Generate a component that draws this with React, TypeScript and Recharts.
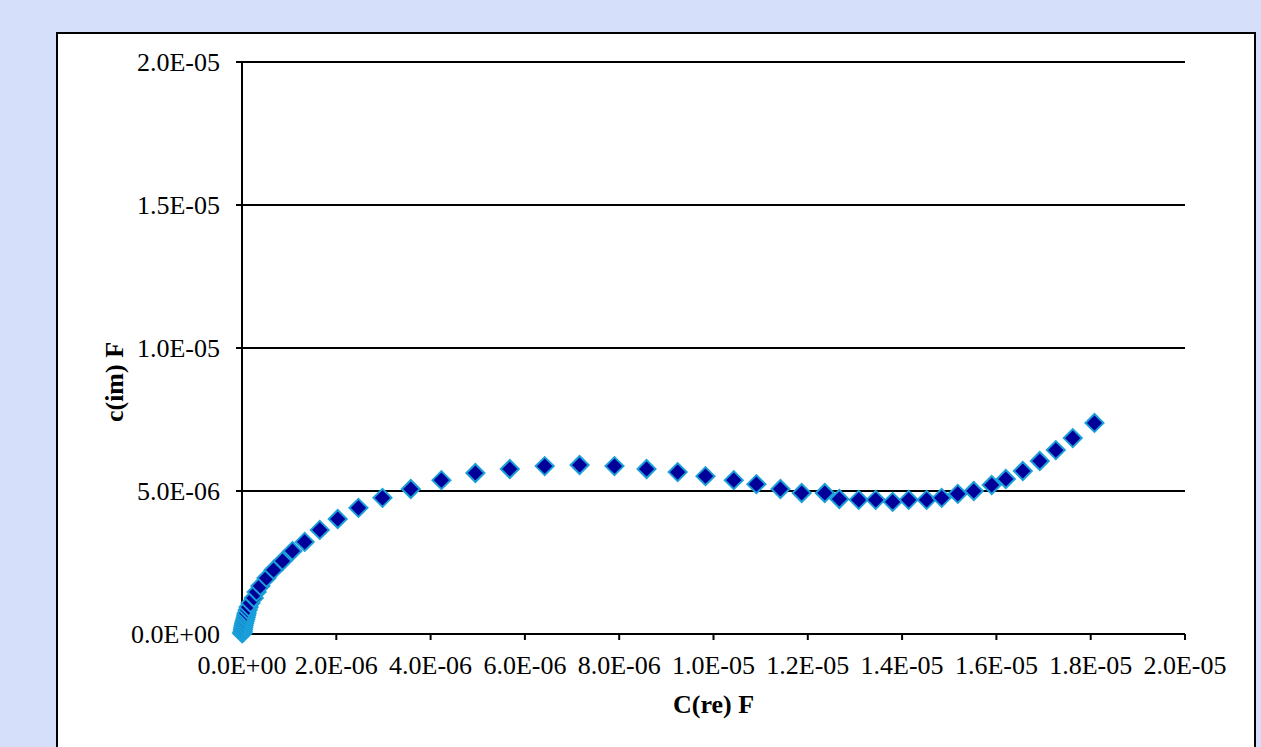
import { CartesianGrid, Scatter, ScatterChart, XAxis, YAxis } from 'recharts'

// real part of capacitance, µF
const C_RE = [
  0.005, 0.01, 0.015, 0.02, 0.027, 0.035, 0.045, 0.055, 0.07, 0.08,
  0.09, 0.1, 0.12, 0.14, 0.18, 0.25, 0.31, 0.39, 0.52, 0.67,
  0.86, 1.07, 1.33, 1.65, 2.03, 2.47, 2.98, 3.58, 4.23, 4.95,
  5.68, 6.42, 7.16, 7.9, 8.58, 9.24, 9.83, 10.43, 10.91, 11.42,
  11.87, 12.36, 12.67, 13.08, 13.44, 13.8, 14.14, 14.52, 14.84, 15.18,
  15.52, 15.9, 16.2, 16.56, 16.92, 17.26, 17.62, 18.08,
]

// imaginary part of capacitance, µF
const C_IM = [
  0.02, 0.05, 0.1, 0.17, 0.24, 0.31, 0.38, 0.45, 0.52, 0.59,
  0.66, 0.73, 0.84, 0.94, 1.08, 1.26, 1.47, 1.68, 1.96, 2.24,
  2.55, 2.9, 3.22, 3.64, 4.02, 4.41, 4.76, 5.07, 5.38, 5.63,
  5.77, 5.87, 5.91, 5.87, 5.77, 5.66, 5.52, 5.38, 5.24, 5.07,
  4.93, 4.93, 4.72, 4.69, 4.69, 4.62, 4.69, 4.69, 4.76, 4.9,
  5.0, 5.21, 5.42, 5.7, 6.05, 6.43, 6.85, 7.38,
]

const X_TICKS = [0, 2e-6, 4e-6, 6e-6, 8e-6, 1e-5, 1.2e-5, 1.4e-5, 1.6e-5, 1.8e-5, 2e-5]
const Y_TICKS = [0, 5e-6, 1e-5, 1.5e-5, 2e-5]

const FONT = '"Liberation Serif", "Times New Roman", serif'

const points = C_RE.map((re, i) => ({ re: re * 1e-6, im: C_IM[i] * 1e-6 }))

// Excel-style scientific label, e.g. 2.0E-05
function sci(v: number) {
  if (v === 0) return '0.0E+00'
  const [m, e] = v.toExponential(1).split('e')
  const exp = Number(e)
  return `${m}E${exp < 0 ? '-' : '+'}${String(Math.abs(exp)).padStart(2, '0')}`
}

function Diamond({ cx, cy }: { cx?: number; cy?: number }) {
  if (cx == null || cy == null) return null
  const r = 9
  return (
    <polygon
      points={`${cx},${cy - r} ${cx + r},${cy} ${cx},${cy + r} ${cx - r},${cy}`}
      fill="#000099"
      stroke="#1a9fd9"
      strokeWidth={2}
    />
  )
}

function XTitle({ viewBox }: { viewBox?: any }) {
  if (!viewBox) return null
  return (
    <text
      x={viewBox.x + viewBox.width / 2}
      y={viewBox.y + viewBox.height + 19}
      textAnchor="middle"
      fontFamily={FONT}
      fontSize={26}
      fontWeight="bold"
      fill="#000"
    >
      C(re) F
    </text>
  )
}

function YTitle({ viewBox }: { viewBox?: any }) {
  if (!viewBox) return null
  const x = viewBox.x + 1
  const y = viewBox.y + viewBox.height / 2 + 34
  return (
    <text
      x={x}
      y={y}
      transform={`rotate(-90, ${x}, ${y})`}
      textAnchor="middle"
      fontFamily={FONT}
      fontSize={26}
      fontWeight="bold"
      fill="#000"
    >
      c(im) F
    </text>
  )
}

export default function App() {
  const tickStyle = { fill: '#000', fontSize: 26, fontFamily: FONT }
  return (
    <div
      style={{
        position: 'fixed',
        left: 0,
        top: 0,
        width: 1261,
        height: 747,
        background: '#d5dffa',
        overflow: 'hidden',
      }}
    >
      <div
        style={{
          position: 'absolute',
          left: 56,
          top: 32,
          width: 1200,
          height: 760,
          boxSizing: 'border-box',
          border: '2px solid #000',
          background: '#fff',
        }}
      />
      <div style={{ position: 'absolute', left: 0, top: 0 }}>
        <ScatterChart width={1261} height={747} margin={{ top: 62, right: 76, bottom: 53, left: 122 }}>
          <CartesianGrid vertical={false} stroke="#000" strokeWidth={2} />
          <XAxis
            type="number"
            dataKey="re"
            domain={[0, 2e-5]}
            ticks={X_TICKS}
            interval={0}
            tickFormatter={sci}
            tick={tickStyle}
            tickSize={6}
            tickMargin={16}
            height={60}
            axisLine={{ stroke: '#000', strokeWidth: 2 }}
            tickLine={{ stroke: '#000', strokeWidth: 2 }}
            label={{ content: (p: any) => <XTitle viewBox={p.viewBox} /> }}
          />
          <YAxis
            type="number"
            dataKey="im"
            domain={[0, 2e-5]}
            ticks={Y_TICKS}
            interval={0}
            tickFormatter={sci}
            tick={tickStyle}
            tickSize={6}
            tickMargin={16}
            width={120}
            axisLine={{ stroke: '#000', strokeWidth: 2 }}
            tickLine={{ stroke: '#000', strokeWidth: 2 }}
            label={{ content: (p: any) => <YTitle viewBox={p.viewBox} /> }}
          />
          <Scatter
            data={points}
            isAnimationActive={false}
            shape={(p: any) => <Diamond cx={p.cx} cy={p.cy} />}
          />
        </ScatterChart>
      </div>
    </div>
  )
}
